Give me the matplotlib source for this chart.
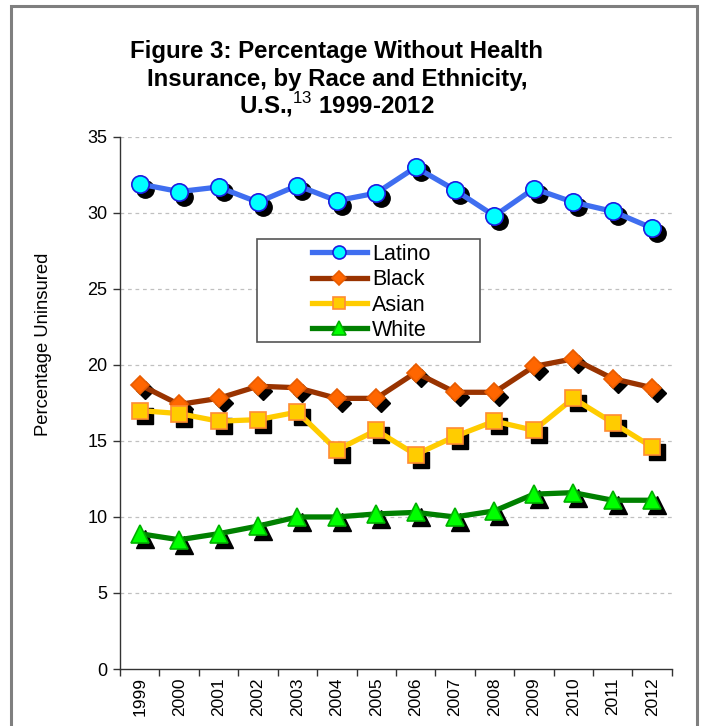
import numpy as np
import matplotlib
matplotlib.use("Agg")
import matplotlib.pyplot as plt
import matplotlib.transforms as mtransforms
from matplotlib.patches import Rectangle

plt.rcParams["font.family"] = ["Liberation Sans", "DejaVu Sans"]
plt.rcParams["mathtext.fontset"] = "custom"
plt.rcParams["mathtext.rm"] = "Liberation Sans"

years = ["1999", "2000", "2001", "2002", "2003", "2004", "2005",
         "2006", "2007", "2008", "2009", "2010", "2011", "2012"]

latino = [31.9, 31.4, 31.7, 30.7, 31.8, 30.8, 31.3,
          33.0, 31.5, 29.8, 31.6, 30.7, 30.1, 29.0]
black = [18.7, 17.4, 17.8, 18.6, 18.5, 17.8, 17.8,
         19.5, 18.2, 18.2, 19.9, 20.4, 19.1, 18.5]
asian = [17.0, 16.8, 16.3, 16.4, 16.9, 14.4, 15.7,
         14.1, 15.3, 16.3, 15.7, 17.8, 16.2, 14.6]
white = [8.9, 8.5, 8.9, 9.4, 10.0, 10.0, 10.2,
         10.3, 10.0, 10.4, 11.5, 11.6, 11.1, 11.1]

# name, values, line colour, marker, face, edge, marker size
series = [
    ("Latino", latino, "#3F6EF0", "o", "#00FFFF", "#1C1CE0", 12.5),
    ("Black", black, "#993300", "D", "#FF6600", "#E85C00", 9.5),
    ("Asian", asian, "#FFCC00", "s", "#FFCC00", "#FF8C33", 11.5),
    ("White", white, "#008000", "^", "#00FF00", "#00B000", 13),
]

W, H = 703, 726
fig = plt.figure(figsize=(W / 100, H / 100), dpi=100)
ax = fig.add_axes([0.1707, 0.0785, 0.785, 0.733])

x = np.arange(len(years))
shadow = mtransforms.offset_copy(ax.transData, fig=fig, x=5, y=-5, units="dots")

for name, vals, lc, mk, fc, ec, ms in series:
    ax.plot(x, vals, linestyle="none", marker=mk, markersize=ms,
            markerfacecolor="black", markeredgecolor="black",
            transform=shadow, zorder=2)
for name, vals, lc, mk, fc, ec, ms in series:
    ax.plot(x, vals, color=lc, linewidth=3.8, marker=mk, markersize=ms,
            markerfacecolor=fc, markeredgecolor=ec, markeredgewidth=1.2,
            label=name, zorder=3)

ax.set_xlim(-0.5, len(years) - 0.5)
ax.set_ylim(0, 35)
ax.set_yticks(np.arange(0, 36, 5))
ax.set_xticks(x)
ax.set_xticklabels(years, rotation=90, fontsize=12.5)
ax.set_xticks(np.arange(-0.5, len(years), 1), minor=True)
ax.tick_params(axis="x", which="major", length=0, pad=6)
ax.tick_params(axis="x", which="minor", length=5, width=1, color="#333333")
ax.tick_params(axis="y", length=5, width=1, color="#333333", labelsize=13, pad=4)

for yv in range(5, 36, 5):
    ax.axhline(yv, color="#C0C0C0", linewidth=0.9, linestyle=(0, (3, 3)), zorder=1)

for side in ["top", "right"]:
    ax.spines[side].set_visible(False)
for side in ["left", "bottom"]:
    ax.spines[side].set_color("#333333")
    ax.spines[side].set_linewidth(1)

fig.text(44 / W, 1 - 344 / H, "Percentage Uninsured", rotation=90,
         ha="center", va="center", fontsize=13.3)

# legend box drawn separately (fixed Excel-style box), entries on top of it
box = Rectangle((257 / W, 1 - 342 / H), (480 - 257) / W, (342 - 239) / H,
                transform=fig.transFigure, facecolor="white",
                edgecolor="#555555", linewidth=1.2, zorder=4)
ax.add_patch(box)
leg = ax.legend(loc="upper left", bbox_to_anchor=(312 / W, 1 - 244 / H),
                bbox_transform=fig.transFigure, fontsize=15.5,
                frameon=False, handlelength=2.55, handletextpad=0.25,
                borderpad=0, labelspacing=0.2, borderaxespad=0)
leg.set_zorder(5)
for h in leg.legend_handles:
    h.set_markersize(h.get_markersize() * 0.75)

title_lines = ["Figure 3: Percentage Without Health",
               "Insurance, by Race and Ethnicity,",
               "U.S.,$^{13}$ 1999-2012"]
for line, base in zip(title_lines, [58, 86, 113]):
    fig.text(337 / W, 1 - base / H, line, ha="center", va="baseline",
             fontsize=17.3, fontweight="bold")

fig.patches.append(Rectangle((11 / W, -0.05), (697 - 11) / W, 1 - 6.5 / H + 0.05,
                             transform=fig.transFigure, fill=False,
                             edgecolor="#7F7F7F", linewidth=2.2))

fig.savefig("out.png", dpi=100)
